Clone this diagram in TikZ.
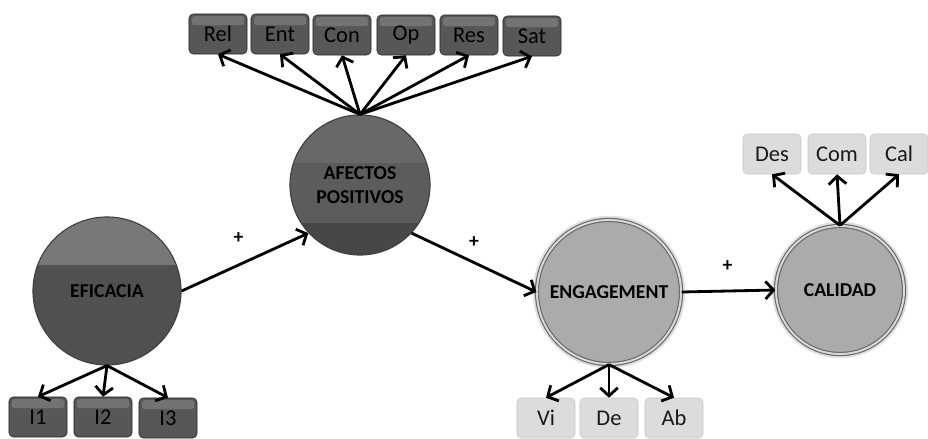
\documentclass[tikz,border=0pt]{standalone}
\usepackage{fontspec}
\setmainfont{Carlito}
\usetikzlibrary{arrows.meta}
\definecolor{darkfill}{HTML}{505050}
\definecolor{darkband}{HTML}{787878}
\definecolor{afecttop}{HTML}{686868}
\definecolor{afectmid}{HTML}{5C5C5C}
\definecolor{afectbot}{HTML}{474747}
\definecolor{lightfill}{HTML}{ABABAB}
\definecolor{boxdark}{HTML}{575757}
\definecolor{boxtop}{HTML}{737373}
\definecolor{boxlight}{HTML}{DCDCDC}
\tikzset{
  factor/.style={circle,inner sep=0pt,align=center,minimum size=#1,
    font=\fontsize{14}{17}\selectfont\bfseries,text=black},
  darkfactor/.style={factor=#1,draw=black!75,thick,fill=darkfill},
  lightfactor/.style={factor=#1,fill=lightfill,draw=black!60,line width=0.8pt,
    double=white!85!black,double distance=1.4pt,
    preaction={draw=black!12,line width=6pt}},
  itembox/.style={rectangle,rounded corners=3pt,minimum width=1.45cm,
    minimum height=1cm,inner sep=1pt,font=\fontsize{16}{18}\selectfont,text=black},
  darkitem/.style={itembox,draw=black!85,fill=boxdark,
    path picture={\fill[boxtop,rounded corners=2pt]
      ([xshift=2pt,yshift=-1.5pt]path picture bounding box.north west)
      rectangle ([xshift=-2pt,yshift=-8pt]path picture bounding box.north east);}},
  lightitem/.style={itembox,draw=black!22,fill=boxlight,text=black!90},
  arr/.style={-{Straight Barb[length=2mm,width=4.4mm]},line width=2pt},
  sign/.style={inner sep=0pt,font=\fontsize{14}{16}\selectfont\bfseries}
}
\begin{document}
\begin{tikzpicture}[x=0.025cm,y=-0.025cm]
% \draw[help lines,step=50] (0,0) grid (928,439);
\useasboundingbox (0,0) rectangle (928,439);
\node (eficacia) [darkfactor=3.7cm,
  path picture={\fill[darkband] (path picture bounding box.north west)
    rectangle ([yshift=-1.2cm]path picture bounding box.north east);}]
  at (107,291) {EFICACIA};
\node (afectos) [darkfactor=3.5cm,fill=afectbot,
  path picture={\fill[afecttop] (path picture bounding box.north west)
    rectangle ([yshift=-1.2cm]path picture bounding box.north east);
    \fill[afectmid] ([yshift=-1.2cm]path picture bounding box.north west)
    rectangle ([yshift=-2.7cm]path picture bounding box.north east);}]
  at (360,185) {AFECTOS\\POSITIVOS};
\node (engagement) [lightfactor=3.6cm] at (609,292) {ENGAGEMENT};
\node (calidad) [lightfactor=3.2cm] at (840,290) {CALIDAD};
%
\node (rel) [darkitem] at (218,34) {Rel};
\node (ent) [darkitem] at (280,34) {Ent};
\node (con) [darkitem] at (342,35) {Con};
\node (op)  [darkitem] at (406,35) {Op};
\node (res) [darkitem] at (469,35) {Res};
\node (sat) [darkitem] at (532,36) {Sat};
\node (i1) [darkitem] at (38,417) {I1};
\node (i2) [darkitem] at (103,417) {I2};
\node (i3) [darkitem] at (168,418) {I3};
\node (vi) [lightitem] at (546,418) {Vi};
\node (de) [lightitem] at (609,418) {De};
\node (ab) [lightitem] at (674,418) {Ab};
\node (des) [lightitem] at (772,154) {Des};
\node (com) [lightitem] at (837,154) {Com};
\node (cal) [lightitem] at (899,154) {Cal};
%
\path[arr]
(eficacia.east) edge node[sign,pos=0.45,above=0.5cm] (signa) {+} (afectos.223)
(afectos.-43) edge node[sign,pos=0.5,above=0.35cm] (signb) {+} (engagement.west)
(engagement.east) edge node[sign,pos=0.49,above=0.46cm] (signc) {+} (calidad.west)
(afectos.north) edge (rel.south)
(afectos.north) edge (ent.south)
(afectos.north) edge (con.south)
(afectos.north) edge (op.south)
(afectos.north) edge (res.south)
(afectos.north) edge (sat.south)
(eficacia.south) edge (i1.north)
(eficacia.south) edge (i2.north)
(eficacia.south) edge (i3.north)
(engagement.south) edge (vi.north)
(engagement.south) edge (de.north)
(engagement.south) edge (ab.north)
(calidad.north) edge (des.south)
(calidad.north) edge (com.south)
(calidad.north) edge (cal.south)
;
\end{tikzpicture}
\end{document}
